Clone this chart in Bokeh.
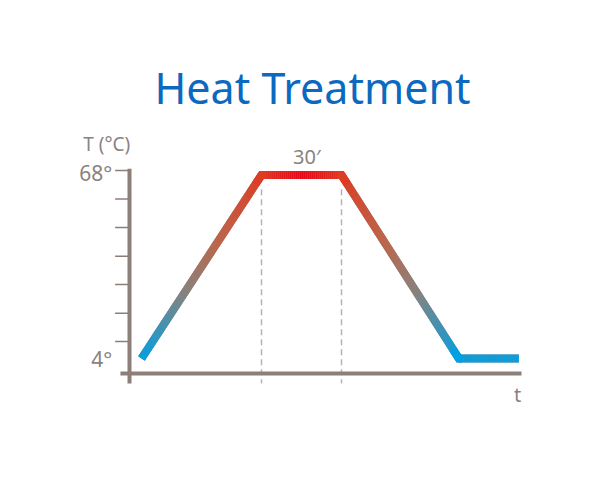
from bokeh.plotting import figure
from bokeh.models import Range1d
from bokeh.core.properties import value
from bokeh.embed import file_html
from bokeh.resources import INLINE

# ---- data ----
time_min = [0, 45, 75, 119, 141.5]       # schematic time points (minutes)
temp_c = [4, 68, 68, 4, 4]               # temperature at each point (°C)
hold_start, hold_end = 45, 75            # 30' hold
y_ticks = [69.6, 59.6, 49.7, 39.7, 29.8, 19.8, 9.9]
y_labels = ["68°", "4°"]
y_label_pos = [68.8, 3.7]
title_text = "Heat Treatment"
y_title = "T (°C)"
x_title = "t"
hold_label = "30′"

FONT = "Noto Sans"
AXIS_COL = "#8c7e78"
TEXT_COL = "#8a8280"
# gradient stops (fraction of height, rgb)
STOPS = [(0.0, (0, 160, 228)), (0.37, (137, 130, 125)), (0.62, (188, 102, 76)), (1.0, (222, 60, 36))]
RED_MID = (230, 8, 22)

PXM = 80 / 30.0      # px per minute
PXD = 183.5 / 64.0   # px per degree

p = figure(width=584, height=464, output_backend="svg", toolbar_location=None,
           x_range=Range1d(-141 / PXM, (584 - 141) / PXM),
           y_range=Range1d(4 - (464 - 358) / PXD, 68 + 174.5 / PXD),
           min_border=0, outline_line_color=None)
p.axis.visible = False
p.grid.visible = False
p.background_fill_color = "#ffffff"
p.border_fill_color = "#ffffff"

# dashed hold markers
p.segment(x0=[hold_start, hold_end], y0=[63.0, 63.0], x1=[hold_start, hold_end], y1=[-4.7, -4.7],
          line_color="#b4b4b4", line_width=1.5, line_dash="6 4")

# axes
p.segment(x0=[-4.5], y0=[70.2], x1=[-4.5], y1=[-4.7], line_color=AXIS_COL, line_width=4)
p.segment(x0=[-7.9], y0=[-1.23], x1=[142.5], y1=[-1.23], line_color=AXIS_COL, line_width=4)
p.segment(x0=[-9.9] * len(y_ticks), y0=y_ticks, x1=[-4.5] * len(y_ticks), y1=y_ticks,
          line_color=AXIS_COL, line_width=1.5)

lo, hi = min(temp_c), max(temp_c)
mid_t = (hold_start + hold_end) / 2


def grad(h):
    h = max(0.0, min(1.0, h))
    for (h0, c0), (h1, c1) in zip(STOPS[:-1], STOPS[1:]):
        if h <= h1:
            f = (h - h0) / (h1 - h0)
            return [c0[i] + (c1[i] - c0[i]) * f for i in range(3)]
    return list(STOPS[-1][1])


def col(t, T):
    c = grad((T - lo) / (hi - lo))
    if T >= hi - 1e-9:
        d = 1 - abs(t - mid_t) / ((hold_end - hold_start) / 2)
        d = max(0.0, min(1.0, d)) ** 0.8
        c = [c[i] + (RED_MID[i] - c[i]) * d for i in range(3)]
    return "#%02x%02x%02x" % tuple(int(round(v)) for v in c)


# base polyline (covers seams)
p.line(time_min, temp_c, line_color=col(time_min[0], 30), line_width=8, line_join="miter")

# gradient pieces along each segment
xs, ys, cs = [], [], []
N = 40
for k in range(len(time_min) - 1):
    x0, y0, x1, y1 = time_min[k], temp_c[k], time_min[k + 1], temp_c[k + 1]
    for j in range(N):
        a, b = j / N, (j + 1) / N
        xa, ya = x0 + (x1 - x0) * a, y0 + (y1 - y0) * a
        xb, yb = x0 + (x1 - x0) * b, y0 + (y1 - y0) * b
        xs.append([xa, xb]); ys.append([ya, yb])
        cs.append(col((xa + xb) / 2, (ya + yb) / 2))
p.multi_line(xs=xs, ys=ys, line_color=cs, line_width=8, line_cap="butt")

# corner joins
for k in range(1, len(time_min) - 1):
    xa = time_min[k] + (time_min[k - 1] - time_min[k]) * 0.05
    ya = temp_c[k] + (temp_c[k - 1] - temp_c[k]) * 0.05
    xb = time_min[k] + (time_min[k + 1] - time_min[k]) * 0.05
    yb = temp_c[k] + (temp_c[k + 1] - temp_c[k]) * 0.05
    p.line([xa, time_min[k], xb], [ya, temp_c[k], yb], line_color=col(time_min[k], temp_c[k]),
           line_width=8, line_join="miter")

# texts
p.text(x=[(312 - 141) / PXM], y=[68 + (174.5 - 87) / PXD], text=[title_text],
       text_font=value(FONT), text_font_size="43px", text_color="#0b69bf",
       text_align="center", text_baseline="middle")
p.text(x=[-4.2], y=[68 + (174.5 - 143) / PXD], text=[y_title], text_font=value(FONT),
       text_font_size="19px", text_color=TEXT_COL, text_align="right", text_baseline="middle")
p.text(x=[-11.0] * len(y_labels), y=y_label_pos,
       text=y_labels, text_font=value(FONT), text_font_size="21px",
       text_color=TEXT_COL, text_align="right", text_baseline="middle")
p.text(x=[mid_t + 2], y=[68 + (174.5 - 156) / PXD], text=[hold_label], text_font=value(FONT),
       text_font_size="20px", text_color=TEXT_COL, text_align="center", text_baseline="middle")
p.text(x=[(517 - 141) / PXM], y=[4 - (394 - 358) / PXD], text=[x_title], text_font=value(FONT),
       text_font_size="20px", text_color=TEXT_COL, text_align="center", text_baseline="middle")

open("out.html", "w").write(file_html(p, INLINE))
